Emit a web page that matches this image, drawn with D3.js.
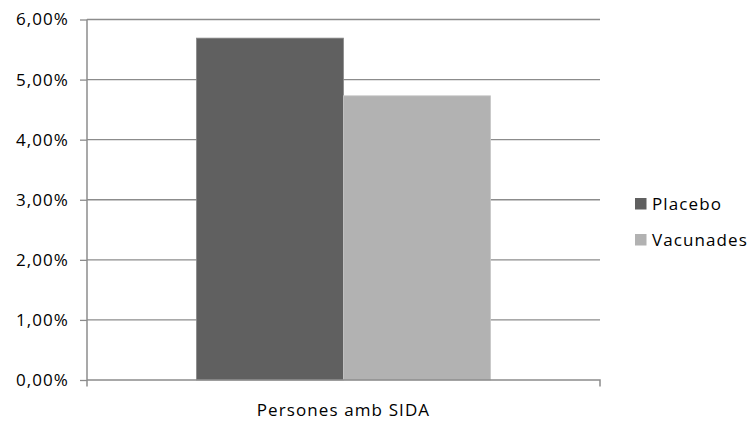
<!DOCTYPE html>
<html>
<head>
<meta charset="utf-8">
<script src="https://cdn.jsdelivr.net/npm/d3@7"></script>
<style>
  html, body { margin: 0; padding: 0; background: #fff; }
  svg { display: block; }
  text { font-family: "Open Sans", "Noto Sans", sans-serif; fill: #000; letter-spacing: 1.1px; }
</style>
</head>
<body>
<svg id="chart" width="749" height="423"></svg>
<script>
// Percentage of people who developed AIDS, per trial group
const categories = ["Persones amb SIDA"];
const seriesNames = ["Placebo", "Vacunades"];
const seriesValues = [[5.69], [4.73]];
const seriesColors = ["#606060", "#b2b2b2"];
const yTicks = [0, 1, 2, 3, 4, 5, 6];

const svg = d3.select("#chart");
const margin = { left: 87, top: 19.5 };
const plotW = 600 - margin.left;
const plotH = 380 - margin.top;
const fontSize = 17;

const g = svg.append("g").attr("transform", `translate(${margin.left},${margin.top})`);

const x0 = d3.scaleBand().domain(categories).range([0, plotW]).paddingInner(0).paddingOuter(0.372);
const x1 = d3.scaleBand().domain(seriesNames).range([0, x0.bandwidth()]).padding(0);
const y = d3.scaleLinear().domain([0, 6]).range([plotH, 0]);

const fmt = v => d3.format(".2f")(v).replace(".", ",") + "%";

// Horizontal gridlines
g.append("g").selectAll("line").data(yTicks.filter(t => t > 0)).join("line")
  .attr("x1", 0).attr("x2", plotW)
  .attr("y1", d => y(d)).attr("y2", d => y(d))
  .attr("stroke", "#8c8c8c").attr("stroke-width", 1.3);

// Bars
const catG = g.append("g").selectAll("g").data(categories).join("g")
  .attr("transform", c => `translate(${x0(c)},0)`);
catG.selectAll("rect").data((c, ci) => seriesNames.map((s, si) => ({ s, si, v: seriesValues[si][ci] })))
  .join("rect")
  .attr("x", d => x1(d.s))
  .attr("width", x1.bandwidth())
  .attr("y", d => y(d.v))
  .attr("height", d => plotH - y(d.v))
  .attr("fill", d => seriesColors[d.si])
  .attr("stroke", d => d.si === 0 ? "#8a8a8a" : "#c8c8c8")
  .attr("stroke-width", 0.8);

// Y axis
const yAxis = g.append("g").call(
  d3.axisLeft(y).tickValues(yTicks).tickFormat(fmt).tickSize(7).tickPadding(11)
);
yAxis.select(".domain").attr("stroke", "#8c8c8c").attr("stroke-width", 1.5)
  .attr("d", `M0,${plotH + 6.5}V0`);
yAxis.selectAll(".tick line").attr("stroke", "#8c8c8c").attr("stroke-width", 1.3);
yAxis.selectAll(".tick text").attr("font-size", fontSize)
  .attr("font-family", '"Open Sans", sans-serif').attr("fill", "#000");

// X axis
const xAxis = g.append("g").attr("transform", `translate(0,${plotH})`).call(
  d3.axisBottom(x0).tickSize(0).tickPadding(23.5)
);
xAxis.select(".domain").attr("stroke", "#8c8c8c").attr("stroke-width", 1.5)
  .attr("d", `M0,0H${plotW}V6.5`);
xAxis.selectAll(".tick text").attr("font-size", fontSize)
  .attr("font-family", '"Open Sans", sans-serif').attr("fill", "#000");

// Legend
const legend = svg.append("g").attr("transform", "translate(635,198)");
const items = legend.selectAll("g").data(seriesNames).join("g")
  .attr("transform", (d, i) => `translate(0,${i * 36})`);
items.append("rect").attr("width", 11.5).attr("height", 11.5)
  .attr("fill", (d, i) => seriesColors[i]);
items.append("text").attr("x", 17).attr("y", 11.5)
  .attr("font-size", fontSize).text(d => d);
</script>
</body>
</html>
